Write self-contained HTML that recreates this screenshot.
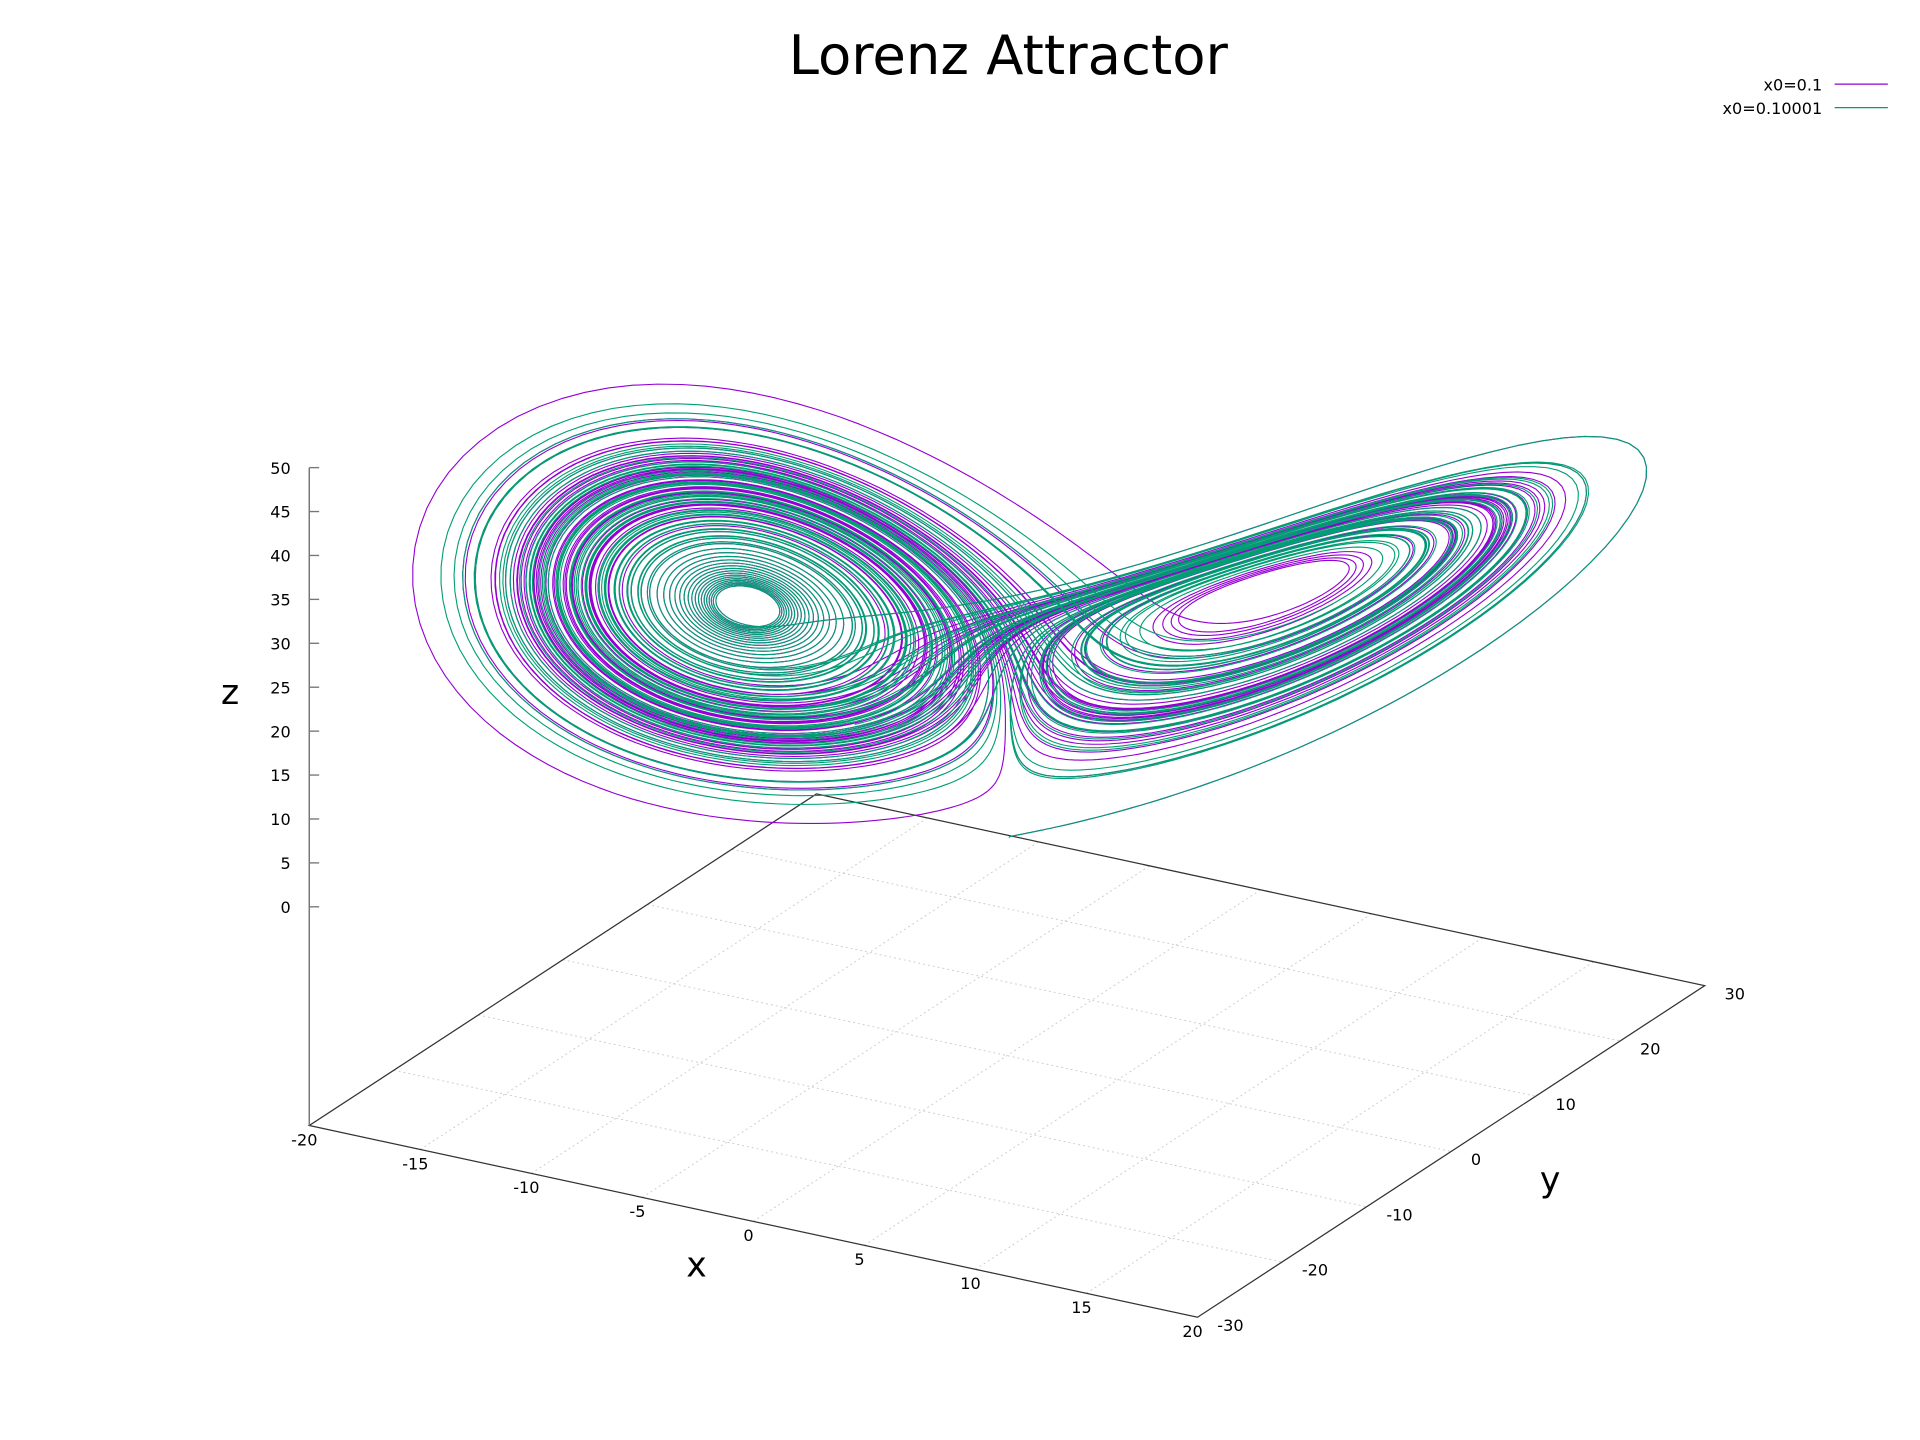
<!DOCTYPE html>
<html><head><meta charset="utf-8"><style>
html,body{margin:0;padding:0;background:#fff;width:1920px;height:1440px;overflow:hidden}
svg text{font-family:"DejaVu Sans","Liberation Sans",sans-serif}
</style></head><body>
<svg id="chart" width="1920" height="1440" viewBox="0 0 1552 1164" xmlns="http://www.w3.org/2000/svg">
<rect width="1552" height="1164" fill="#fff"/>
<text x="815" y="60" font-size="44" text-anchor="middle">Lorenz Attractor</text>
<g id="axes"></g>
<g id="series"></g>
<g font-size="13">
<text x="1473" y="73" text-anchor="end">x0=0.1</text>
<line x1="1483" y1="68" x2="1526" y2="68" stroke="#9400d3" stroke-width="1"/>
<text x="1473" y="92" text-anchor="end">x0=0.10001</text>
<line x1="1483" y1="87" x2="1526" y2="87" stroke="#009e73" stroke-width="1"/>
</g>
<text x="563" y="1032" font-size="28" text-anchor="middle">x</text>
<text x="1253" y="963" font-size="28" text-anchor="middle">y</text>
<text x="186" y="569" font-size="28" text-anchor="middle">z</text>
</svg>
<script>
const xTicks=[-20,-15,-10,-5,0,5,10,15,20];
const yTicks=[-30,-20,-10,0,10,20,30];
const zTicks=[0,5,10,15,20,25,30,35,40,45,50];
const initialX=[0.1,0.10001];
const seriesColors=["#9400d3","#009e73"];
const lorenzParams=[10,28,8/3];
const tEnd=[80];
const NS="http://www.w3.org/2000/svg";
const zBase=-24.9;
function P(x,y,z){
  return [250+(x+20)*17.95+(y+30)*6.833, 733+(x+20)*3.875-(y+30)*4.467-z*7.1];
}
function el(tag,attrs,parent){const e=document.createElementNS(NS,tag);for(const k in attrs)e.setAttribute(k,attrs[k]);parent.appendChild(e);return e;}
const axes=document.getElementById('axes');
for(const xv of xTicks){
  const a=P(xv,-30,zBase),b=P(xv,30,zBase);
  const g=el('line',{x1:a[0],y1:a[1],x2:b[0],y2:b[1],stroke:'#ccc','stroke-width':0.8,'stroke-dasharray':'1.5,2.5'},axes);
  
  
  const t=P(xv,-30,zBase);
  const tx=el('text',{x:t[0]-4,y:t[1]+16,'font-size':13,'text-anchor':'middle'},axes);
  tx.textContent=xv;
  
  
}
for(const yv of yTicks){
  const a=P(-20,yv,zBase),b=P(20,yv,zBase);
  const g=el('line',{x1:a[0],y1:a[1],x2:b[0],y2:b[1],stroke:'#ccc','stroke-width':0.8,'stroke-dasharray':'1.5,2.5'},axes);
  
  
  const tx=el('text',{x:b[0]+16,y:b[1]+11,'font-size':13,'text-anchor':'start'},axes);
  tx.textContent=yv;
  
  
}
const c=[P(-20,-30,zBase),P(20,-30,zBase),P(20,30,zBase),P(-20,30,zBase)];
const border=el('polygon',{points:c.map(p=>p.join(',')).join(' '),fill:'none',stroke:'#333','stroke-width':1},axes);


const zb=P(-20,-30,zBase),zt=P(-20,-30,50);
const za=el('line',{x1:zb[0],y1:zb[1],x2:zt[0],y2:zt[1],stroke:'#777','stroke-width':1.2},axes);


for(const zv of zTicks){
  const p=P(-20,-30,zv);
  const tk=el('line',{x1:p[0],y1:p[1],x2:p[0]+8,y2:p[1],stroke:'#777','stroke-width':1.1},axes);
  
  
  const tx=el('text',{x:p[0]-15,y:p[1]+5,'font-size':13,'text-anchor':'end'},axes);
  tx.textContent=zv;
  
  
}
const [sig,rho,beta]=lorenzParams;
function f(s){return [sig*(s[1]-s[0]), s[0]*(rho-s[2])-s[1], s[0]*s[1]-beta*s[2]];}
const sg=document.getElementById('series');
initialX.forEach((x0,i)=>{
  let s=[x0,0,0];const h=0.005;const n=Math.round(tEnd[0]/h);
  const pts=[];
  for(let k=0;k<=n;k++){
    const p=P(s[0],s[1],s[2]);pts.push(p[0].toFixed(1)+','+p[1].toFixed(1));
    const k1=f(s),k2=f(s.map((v,j)=>v+h/2*k1[j])),k3=f(s.map((v,j)=>v+h/2*k2[j])),k4=f(s.map((v,j)=>v+h*k3[j]));
    s=s.map((v,j)=>v+h/6*(k1[j]+2*k2[j]+2*k3[j]+k4[j]));
  }
  const pl=el('polyline',{points:pts.join(' '),fill:'none',stroke:seriesColors[i],'stroke-width':0.9,'stroke-linejoin':'round'},sg);
  
  
});
</script>
</body></html>
